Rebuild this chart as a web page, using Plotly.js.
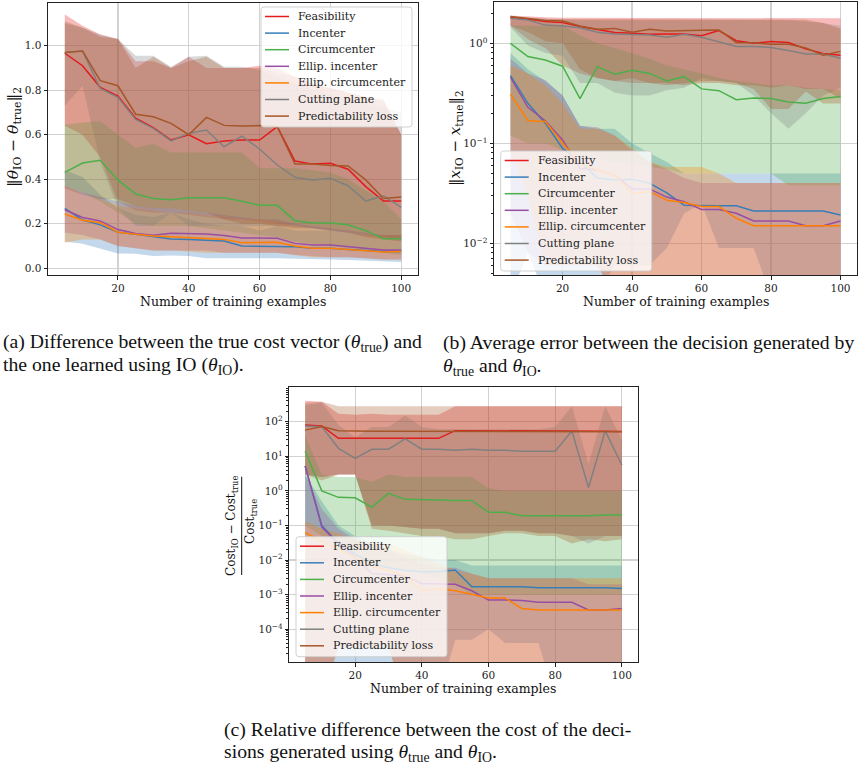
<!DOCTYPE html>
<html><head><meta charset="utf-8">
<script src="https://cdn.plot.ly/plotly-3.0.1.min.js"></script>
<style>html,body{margin:0;padding:0;background:#fff}#chart{width:864px;height:765px}</style>
</head><body><div id="chart"></div>
<script>
// ---------------- data ----------------
const nTrain = [5,10,15,20,25,30,35,40,45,50,55,60,65,70,75,80,85,90,95,100];
const methods = ['Feasibility','Incenter','Circumcenter','Ellip. incenter','Ellip. circumcenter','Cutting plane','Predictability loss'];
const colors = ['#e41a1c','#377eb8','#4daf4a','#984ea3','#ff7f00','#808080','#a65628'];

// (a) ||theta_IO - theta_true||_2
const a_feas_mean  = [0.966,0.91,0.813,0.774,0.674,0.632,0.576,0.60,0.56,0.572,0.576,0.576,0.636,0.482,0.468,0.472,0.445,0.367,0.302,0.302];
const a_inc_mean   = [0.269,0.217,0.195,0.162,0.153,0.142,0.132,0.129,0.126,0.123,0.10,0.10,0.10,0.097,0.09,0.09,0.085,0.079,0.075,0.075];
const a_circ_mean  = [0.431,0.473,0.485,0.397,0.334,0.314,0.308,0.317,0.317,0.317,0.301,0.283,0.283,0.214,0.204,0.204,0.196,0.169,0.133,0.133];
const a_einc_mean  = [0.263,0.228,0.213,0.174,0.156,0.148,0.157,0.156,0.154,0.147,0.136,0.136,0.135,0.112,0.105,0.105,0.097,0.087,0.082,0.082];
const a_ecirc_mean = [0.244,0.216,0.205,0.162,0.153,0.145,0.142,0.139,0.135,0.13,0.115,0.117,0.117,0.10,0.09,0.09,0.085,0.079,0.073,0.075];
const a_cut_mean   = [0.969,0.976,0.808,0.768,0.669,0.629,0.572,0.606,0.621,0.546,0.594,0.536,0.464,0.409,0.397,0.404,0.371,0.302,0.326,0.274];
const a_pred_mean  = [0.969,0.976,0.843,0.82,0.692,0.681,0.651,0.60,0.678,0.642,0.639,0.641,0.636,0.468,0.468,0.462,0.46,0.397,0.314,0.32];

const a_feas_hi  = [1.14,1.09,1.05,1.03,0.93,0.93,0.90,0.95,0.90,0.90,0.90,0.91,0.90,0.86,0.83,0.81,0.79,0.77,0.75,0.60];
const a_feas_lo  = [0.64,0.60,0.50,0.30,0.26,0.25,0.25,0.24,0.23,0.22,0.22,0.21,0.20,0.19,0.18,0.17,0.16,0.15,0.14,0.13];
const a_inc_hi   = [0.44,0.41,0.33,0.27,0.24,0.23,0.25,0.22,0.20,0.19,0.19,0.17,0.19,0.17,0.17,0.17,0.16,0.15,0.15,0.15];
const a_inc_lo   = [0.12,0.11,0.09,0.067,0.065,0.055,0.058,0.055,0.045,0.045,0.045,0.045,0.045,0.045,0.042,0.04,0.037,0.033,0.03,0.028];
const a_circ_hi  = [0.645,0.655,0.66,0.60,0.54,0.56,0.52,0.52,0.52,0.52,0.52,0.45,0.45,0.45,0.44,0.43,0.40,0.35,0.30,0.22];
const a_circ_lo  = [0.37,0.34,0.30,0.25,0.20,0.19,0.19,0.19,0.18,0.17,0.16,0.15,0.14,0.12,0.11,0.10,0.09,0.08,0.07,0.06];
const a_einc_hi  = [0.37,0.34,0.32,0.30,0.28,0.27,0.27,0.26,0.25,0.24,0.23,0.22,0.22,0.20,0.19,0.18,0.17,0.16,0.15,0.15];
const a_einc_lo  = [0.16,0.15,0.13,0.10,0.09,0.08,0.08,0.08,0.08,0.07,0.07,0.07,0.07,0.06,0.055,0.05,0.05,0.045,0.04,0.04];
const a_ecirc_hi = [0.37,0.33,0.31,0.28,0.27,0.26,0.25,0.25,0.24,0.23,0.22,0.22,0.21,0.19,0.18,0.17,0.16,0.15,0.15,0.15];
const a_ecirc_lo = [0.115,0.13,0.13,0.10,0.09,0.08,0.08,0.075,0.07,0.07,0.07,0.07,0.07,0.06,0.05,0.05,0.05,0.045,0.04,0.04];
const a_cut_hi   = [1.10,1.08,1.05,1.03,0.955,0.955,0.905,0.95,0.955,0.905,0.905,0.89,0.86,0.83,0.80,0.78,0.76,0.74,0.72,0.70];
const a_cut_lo   = [0.73,0.82,0.48,0.27,0.19,0.19,0.25,0.19,0.19,0.19,0.19,0.19,0.19,0.19,0.18,0.17,0.16,0.15,0.14,0.13];
const a_pred_hi  = [1.11,1.08,1.04,1.03,0.90,0.95,0.90,0.93,0.95,0.90,0.90,0.90,0.88,0.86,0.83,0.81,0.79,0.77,0.76,0.60];
const a_pred_lo  = [0.36,0.33,0.31,0.31,0.28,0.27,0.27,0.26,0.25,0.22,0.20,0.20,0.19,0.18,0.18,0.17,0.16,0.14,0.13,0.12];

// (b) ||x_IO - x_true||_2
const b_feas_mean  = [1.81,1.75,1.65,1.61,1.47,1.36,1.28,1.26,1.23,1.24,1.24,1.19,1.34,1.06,1.0,1.04,1.02,0.88,0.79,0.76];
const b_inc_mean   = [0.475,0.251,0.159,0.089,0.065,0.045,0.043,0.0437,0.04,0.032,0.024,0.0237,0.0237,0.0237,0.021,0.021,0.021,0.021,0.021,0.0192];
const b_circ_mean  = [1.0,0.736,0.68,0.59,0.28,0.584,0.49,0.537,0.50,0.42,0.464,0.35,0.336,0.273,0.284,0.28,0.259,0.251,0.28,0.293];
const b_einc_mean  = [0.457,0.229,0.168,0.108,0.056,0.054,0.048,0.035,0.035,0.029,0.026,0.0218,0.0218,0.02,0.0167,0.0167,0.0167,0.015,0.015,0.0167];
const b_ecirc_mean = [0.309,0.168,0.165,0.10,0.063,0.054,0.048,0.0316,0.033,0.027,0.0256,0.0233,0.0233,0.0178,0.015,0.015,0.015,0.015,0.015,0.015];
const b_cut_mean   = [1.78,1.71,1.52,1.49,1.43,1.29,1.24,1.23,1.21,1.15,1.23,1.15,1.04,0.93,0.93,0.91,0.845,0.78,0.78,0.71];
const b_pred_mean  = [1.85,1.78,1.69,1.67,1.49,1.38,1.41,1.29,1.38,1.33,1.33,1.35,1.36,1.02,1.01,0.98,0.98,0.90,0.76,0.83];

const b_feas_hi  = [1.9,1.85,1.82,1.8,1.8,1.8,1.8,1.8,1.8,1.8,1.8,1.8,1.8,1.8,1.8,1.8,1.8,1.8,1.8,1.78];
const b_feas_lo  = [1.5,1.1,0.9,0.6,0.5,0.45,0.42,0.40,0.40,0.40,0.38,0.40,0.40,0.38,0.38,0.36,0.38,0.35,0.35,0.28];
const b_inc_hi   = [0.8,0.55,0.42,0.3,0.15,0.14,0.14,0.10,0.08,0.065,0.05,0.05,0.05,0.05,0.05,0.05,0.05,0.05,0.05,0.05];
const b_inc_lo   = [0.003,0.008,0.003,0.003,0.003,0.003,0.006,0.006,0.006,0.009,0.02,0.025,0.009,0.009,0.009,0.003,0.003,0.003,0.003,0.003];
const b_circ_hi  = [1.5,1.5,1.5,1.5,1.2,1.0,0.9,0.8,0.7,0.6,0.55,0.5,0.45,0.42,0.40,0.38,0.38,0.36,0.35,0.34];
const b_circ_lo  = [0.12,0.10,0.10,0.085,0.075,0.07,0.065,0.062,0.058,0.055,0.05,0.05,0.05,0.05,0.05,0.05,0.038,0.038,0.038,0.038];
const b_einc_hi  = [0.7,0.5,0.43,0.3,0.15,0.145,0.12,0.085,0.065,0.055,0.045,0.04,0.04,0.04,0.04,0.04,0.04,0.04,0.04,0.04];
const b_einc_lo  = [0.02,0.008,0.006,0.006,0.006,0.006,0.003,0.003,0.003,0.003,0.003,0.003,0.003,0.003,0.003,0.003,0.003,0.003,0.003,0.003];
const b_ecirc_hi = [0.6,0.5,0.38,0.25,0.14,0.14,0.12,0.09,0.065,0.058,0.058,0.058,0.05,0.04,0.04,0.04,0.04,0.04,0.04,0.04];
const b_ecirc_lo = [0.08,0.03,0.006,0.006,0.006,0.006,0.003,0.003,0.003,0.003,0.003,0.003,0.003,0.003,0.003,0.003,0.003,0.003,0.003,0.003];
const b_cut_hi   = [1.85,1.8,1.75,1.72,1.7,1.7,1.7,1.7,1.7,1.7,1.7,1.7,1.7,1.7,1.7,1.7,1.7,1.65,1.6,1.5];
const b_cut_lo   = [1.45,0.95,0.80,0.75,0.40,0.40,0.32,0.30,0.30,0.34,0.36,0.45,0.42,0.40,0.30,0.20,0.14,0.20,0.30,0.36];
const b_pred_hi  = [1.85,1.8,1.75,1.75,1.75,1.75,1.75,1.75,1.75,1.75,1.75,1.75,1.75,1.75,1.75,1.75,1.75,1.72,1.6,1.4];
const b_pred_lo  = [1.5,1.3,1.05,1.0,0.55,0.45,0.42,0.45,0.40,0.38,0.40,0.42,0.42,0.40,0.35,0.22,0.22,0.33,0.25,0.25];

// (c) (Cost_IO - Cost_true) / Cost_true
const c_feas_mean  = [80,75,33,33,33,33,33,33,33,55,55,55,55,54,54,54,54,54,53,52];
const c_inc_mean   = [5.3,0.10,0.03,0.015,0.008,0.006,0.005,0.0046,0.0046,0.0052,0.0017,0.0017,0.0017,0.0017,0.0016,0.0016,0.0016,0.0016,0.0016,0.0015];
const c_circ_mean  = [14,1.0,0.65,0.63,0.34,0.85,0.57,0.57,0.55,0.53,0.53,0.24,0.24,0.19,0.19,0.19,0.19,0.19,0.2,0.2];
const c_einc_mean  = [5.3,0.09,0.03,0.012,0.0041,0.0037,0.0035,0.0021,0.0021,0.002,0.0013,0.0007,0.0007,0.00068,0.0006,0.0006,0.0006,0.00036,0.00036,0.0004];
const c_ecirc_mean = [0.062,0.035,0.02,0.012,0.007,0.005,0.0035,0.0013,0.0015,0.0013,0.001,0.0008,0.0008,0.0004,0.00036,0.00036,0.00036,0.00036,0.00036,0.00036];
const c_cut_mean   = [75,72,17,8.7,16,16,32,16,16,15,16,15,15,14,14,14,54,1.26,54,5.6];
const c_pred_mean  = [57,72,55,53,53,53,53,53,53,53,53,53,53,53,52,52,52,52,51,51];

const c_feas_hi  = [400,380,170,160,170,160,160,160,160,280,280,280,280,280,280,280,280,280,280,280];
const c_feas_lo  = [3,2.5,3,3,0.1,0.1,0.09,0.08,0.08,0.06,0.06,0.06,0.07,0.07,0.06,0.06,0.05,0.05,0.05,0.05];
const c_inc_hi   = [3,0.5,0.1,0.05,0.03,0.02,0.015,0.012,0.01,0.01,0.007,0.007,0.007,0.007,0.007,0.007,0.007,0.007,0.007,0.007];
const c_inc_lo   = [1e-6,1e-6,1e-6,1e-6,1e-6,1e-6,1e-6,1e-6,1e-6,5e-5,5e-5,1e-4,4e-5,4e-5,4e-5,1e-6,1e-6,1e-6,1e-6,1e-6];
const c_circ_hi  = [40,3,2.5,2.5,1.8,3,2.5,2.5,2.5,2.5,2.5,1.2,1.0,1.0,1.0,1.0,1.0,1.0,1.0,1.0];
const c_circ_lo  = [0.1,0.05,0.02,0.01,0.008,0.006,0.005,0.004,0.003,0.002,0.001,0.001,0.001,0.001,0.001,0.001,0.001,0.001,0.001,0.001];
const c_einc_hi  = [3,0.3,0.08,0.04,0.03,0.02,0.012,0.008,0.006,0.006,0.004,0.003,0.003,0.003,0.003,0.003,0.003,0.002,0.002,0.002];
const c_einc_lo  = [1e-6,1e-6,3e-5,3e-5,3e-5,3e-5,1e-6,1e-6,1e-6,1e-6,1e-6,1e-6,1e-6,1e-6,1e-6,1e-6,1e-6,1e-6,1e-6,1e-6];
const c_ecirc_hi = [0.13,0.08,0.06,0.04,0.03,0.03,0.02,0.012,0.008,0.005,0.004,0.003,0.003,0.003,0.003,0.003,0.003,0.003,0.003,0.003];
const c_ecirc_lo = [1e-6,1e-6,3e-5,3e-5,3e-5,3e-5,1e-6,1e-6,1e-6,1e-6,1e-6,1e-6,1e-6,1e-6,1e-6,1e-6,1e-6,1e-6,1e-6,1e-6];
const c_cut_hi   = [300,350,80,35,70,70,150,70,60,60,60,60,60,60,60,70,280,6,280,30];
const c_cut_lo   = [3,2.5,3,3,0.1,0.1,0.09,0.08,0.08,0.06,0.06,0.06,0.07,0.07,0.06,0.06,0.05,0.03,0.05,0.05];
const c_pred_hi  = [350,380,280,280,280,280,280,280,280,280,280,280,280,280,280,280,280,280,280,280];
const c_pred_lo  = [3,2,3,3,0.08,0.07,0.06,0.05,0.05,0.04,0.04,0.05,0.06,0.06,0.05,0.05,0.03,0.04,0.035,0.04];

const xTicks = [20,40,60,80,100];
const aTicks = [0,0.2,0.4,0.6,0.8,1.0];
const aTickText = ['0.0','0.2','0.4','0.6','0.8','1.0'];
const bExp = [-2,-1,0];
const cExp = [-4,-3,-2,-1,0,1,2];

// ---------------- build ----------------
const W = 864, H = 765;
const px = v => v / W;
const py = v => 1 - v / H;
const FONT = 'DejaVu Serif';

const panels = [
  {xa:'x',  ya:'y',
   mean:[a_feas_mean,a_inc_mean,a_circ_mean,a_einc_mean,a_ecirc_mean,a_cut_mean,a_pred_mean],
   lo:[a_feas_lo,a_inc_lo,a_circ_lo,a_einc_lo,a_ecirc_lo,a_cut_lo,a_pred_lo],
   hi:[a_feas_hi,a_inc_hi,a_circ_hi,a_einc_hi,a_ecirc_hi,a_cut_hi,a_pred_hi]},
  {xa:'x2', ya:'y2',
   mean:[b_feas_mean,b_inc_mean,b_circ_mean,b_einc_mean,b_ecirc_mean,b_cut_mean,b_pred_mean],
   lo:[b_feas_lo,b_inc_lo,b_circ_lo,b_einc_lo,b_ecirc_lo,b_cut_lo,b_pred_lo],
   hi:[b_feas_hi,b_inc_hi,b_circ_hi,b_einc_hi,b_ecirc_hi,b_cut_hi,b_pred_hi]},
  {xa:'x3', ya:'y3',
   mean:[c_feas_mean,c_inc_mean,c_circ_mean,c_einc_mean,c_ecirc_mean,c_cut_mean,c_pred_mean],
   lo:[c_feas_lo,c_inc_lo,c_circ_lo,c_einc_lo,c_ecirc_lo,c_cut_lo,c_pred_lo],
   hi:[c_feas_hi,c_inc_hi,c_circ_hi,c_einc_hi,c_ecirc_hi,c_cut_hi,c_pred_hi]}
];

function rgba(hex, a) {
  const r = parseInt(hex.slice(1,3),16), g = parseInt(hex.slice(3,5),16), b = parseInt(hex.slice(5,7),16);
  return `rgba(${r},${g},${b},${a})`;
}

const traces = [];
const xBack = nTrain.slice().reverse();
panels.forEach(p => {
  methods.forEach((m, i) => {
    traces.push({
      type:'scatter', mode:'lines', xaxis:p.xa, yaxis:p.ya,
      x: nTrain.concat(xBack),
      y: p.hi[i].concat(p.lo[i].slice().reverse()),
      fill:'toself', fillcolor: rgba(colors[i], 0.3),
      line:{width:0, color:'rgba(0,0,0,0)'}, hoverinfo:'skip', showlegend:false
    });
  });
});
panels.forEach(p => {
  methods.forEach((m, i) => {
    traces.push({
      type:'scatter', mode:'lines', xaxis:p.xa, yaxis:p.ya, name:m,
      x: nTrain, y: p.mean[i],
      line:{color:colors[i], width:1.5}, showlegend:false
    });
  });
});

function minorLog(lo, hi) {
  const v = [];
  for (let k = lo; k <= hi; k++) for (let m = 2; m <= 9; m++) v.push(m * Math.pow(10, k));
  return v;
}
const supText = e => '10<sup>' + (e < 0 ? '\u2212' + (-e) : e) + '</sup>';

const axBase = {
  showline:true, mirror:true, linecolor:'#222', linewidth:1,
  ticks:'outside', ticklen:3.5, tickwidth:1, tickcolor:'#222',
  showgrid:true, gridcolor:'#d2d2d2', gridwidth:1.2, zeroline:false,
  tickfont:{family:FONT, size:10.5, color:'#222'}
};
function xAxis(d0, d1, anchor) {
  return Object.assign({}, axBase, {domain:[px(d0), px(d1)], range:[0.25,104.75], tickmode:'array', tickvals:xTicks, anchor:anchor});
}

const layout = {
  width:W, height:H, margin:{l:0,r:0,t:0,b:0},
  paper_bgcolor:'#fff', plot_bgcolor:'#fff', showlegend:false,
  xaxis:  xAxis(48, 418, 'y'),
  xaxis2: xAxis(494, 857, 'y2'),
  xaxis3: xAxis(289.3, 637.7, 'y3'),
  yaxis: Object.assign({}, axBase, {domain:[py(275), py(2.7)], range:[-0.03,1.193], tickmode:'array', tickvals:aTicks, ticktext:aTickText, anchor:'x'}),
  yaxis2: Object.assign({}, axBase, {type:'log', domain:[py(275), py(1.7)], range:[-2.317,0.416], tickmode:'array',
      tickvals:bExp.map(e=>Math.pow(10,e)), ticktext:bExp.map(supText), anchor:'x2',
      minor:{tickmode:'array', tickvals:minorLog(-3,0), ticks:'outside', ticklen:2, tickcolor:'#222', showgrid:false}}),
  yaxis3: Object.assign({}, axBase, {type:'log', domain:[py(662.3), py(387.3)], range:[-4.954,2.994], tickmode:'array',
      tickvals:cExp.map(e=>Math.pow(10,e)), ticktext:cExp.map(supText), anchor:'x3',
      minor:{tickmode:'array', tickvals:minorLog(-5,2), ticks:'outside', ticklen:2, tickcolor:'#222', showgrid:false}}),
  shapes:[], annotations:[]
};

function roundRect(l, t, w, h, r) {
  const X = v => px(v).toFixed(6), Y = v => py(v).toFixed(6);
  const R = l + w, B = t + h;
  return `M ${X(l+r)} ${Y(t)} L ${X(R-r)} ${Y(t)} Q ${X(R)} ${Y(t)} ${X(R)} ${Y(t+r)} L ${X(R)} ${Y(B-r)} Q ${X(R)} ${Y(B)} ${X(R-r)} ${Y(B)} L ${X(l+r)} ${Y(B)} Q ${X(l)} ${Y(B)} ${X(l)} ${Y(B-r)} L ${X(l)} ${Y(t+r)} Q ${X(l)} ${Y(t)} ${X(l+r)} ${Y(t)} Z`;
}
function addLegend(left, top) {
  const w = 151, h = 120;
  layout.shapes.push({type:'path', xref:'paper', yref:'paper', path:roundRect(left, top, w, h, 3),
    fillcolor:'rgba(255,255,255,0.8)', line:{color:'rgba(204,204,204,0.9)', width:1}, layer:'above'});
  methods.forEach((m, i) => {
    const yc = top + 9.5 + i * 16.6;
    layout.shapes.push({type:'line', xref:'paper', yref:'paper', x0:px(left+4), x1:px(left+28), y0:py(yc), y1:py(yc),
      line:{color:colors[i], width:1.5}, layer:'above'});
    layout.annotations.push({xref:'paper', yref:'paper', x:px(left+35), y:py(yc), xanchor:'left', yanchor:'middle',
      text:m, showarrow:false, font:{family:FONT, size:11, color:'#222'}});
  });
}
addLegend(261, 7);
addLegend(500.7, 151);
addLegend(296, 536.7);

function note(text, x, y, opts) {
  layout.annotations.push(Object.assign({xref:'paper', yref:'paper', x:px(x), y:py(y), text:text, showarrow:false,
    xanchor:'center', yanchor:'middle', font:{family:FONT, size:12.5, color:'#111'}}, opts || {}));
}
// axis titles
note('Number of training examples', 233, 301.5);
note('Number of training examples', 675.7, 301.5);
note('Number of training examples', 463, 688);
note('\u2016<i>\u03b8</i><sub>IO</sub> \u2212 <i>\u03b8</i><sub>true</sub>\u2016<sub>2</sub>', 14, 137, {textangle:-90, font:{family:FONT, size:15.5, color:'#111'}});
note('\u2016<i>x</i><sub>IO</sub> \u2212 <i>x</i><sub>true</sub>\u2016<sub>2</sub>', 455, 138, {textangle:-90, font:{family:FONT, size:15, color:'#111'}});
note('Cost<sub>IO</sub> \u2212 Cost<sub>true</sub>', 232, 526, {textangle:-90, font:{family:FONT, size:12, color:'#111'}});
note('Cost<sub>true</sub>', 251, 522, {textangle:-90, font:{family:FONT, size:12, color:'#111'}});
layout.shapes.push({type:'line', xref:'paper', yref:'paper', x0:px(241.7), x1:px(241.7), y0:py(476.7), y1:py(575), line:{color:'#111', width:1}});

// captions
const CAP = {family:'Liberation Serif', size:19.7, color:'#111'};
note('(a) Difference between the true cost vector (<i>\u03b8</i><sub>true</sub>) and', 1, 343, {xanchor:'left', font:CAP});
note('the one learned using IO (<i>\u03b8</i><sub>IO</sub>).', 1, 365, {xanchor:'left', font:CAP});
note('(b) Average error between the decision generated by', 441, 343, {xanchor:'left', font:CAP});
note('<i>\u03b8</i><sub>true</sub> and <i>\u03b8</i><sub>IO</sub>.', 441, 366, {xanchor:'left', font:CAP});
note('(c) Relative difference between the cost of the deci-', 222, 729, {xanchor:'left', font:CAP});
note('sions generated using <i>\u03b8</i><sub>true</sub> and <i>\u03b8</i><sub>IO</sub>.', 222, 752, {xanchor:'left', font:CAP});

Plotly.newPlot('chart', traces, layout, {displayModeBar:false, staticPlot:true});
</script></body></html>
